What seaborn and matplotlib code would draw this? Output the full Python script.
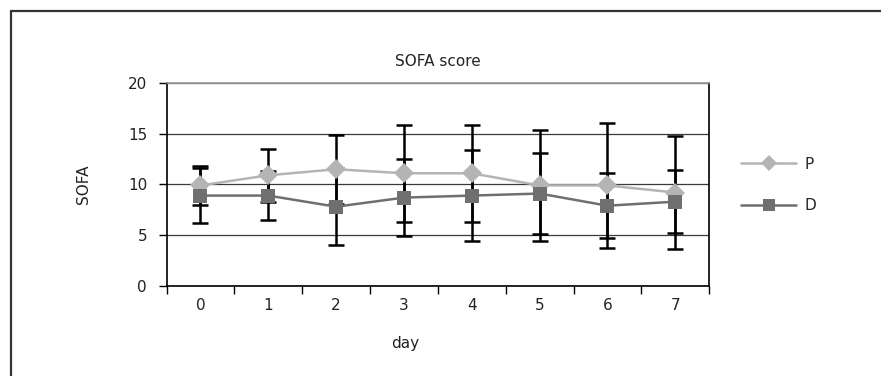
import numpy as np
import pandas as pd
import seaborn as sns
import matplotlib.pyplot as plt
from matplotlib.lines import Line2D
from matplotlib.ticker import FixedLocator

# values
days = [0, 1, 2, 3, 4, 5, 6, 7]
p_mean = [9.9, 10.9, 11.5, 11.1, 11.1, 9.9, 9.9, 9.2]
p_err = [1.9, 2.6, 3.4, 4.8, 4.8, 5.5, 6.2, 5.6]
d_mean = [8.9, 8.9, 7.8, 8.7, 8.9, 9.1, 7.9, 8.3]
d_err = [2.7, 2.4, 3.8, 3.8, 4.5, 4.0, 3.2, 3.1]

df = pd.DataFrame({
    "day": days * 2,
    "SOFA": p_mean + d_mean,
    "group": ["P"] * len(days) + ["D"] * len(days),
})

sns.set_theme(style="white")
plt.rcParams["font.family"] = ["DejaVu Sans"]
plt.rcParams["font.size"] = 10.5

fig = plt.figure(figsize=(8.81, 3.76), dpi=100)
ax = fig.add_axes([0.189, 0.240, 0.616, 0.539])

p_col = "#b4b4b4"
d_col = "#6f6f6f"

# error bars under the markers
ax.errorbar(days, p_mean, yerr=p_err, fmt="none", ecolor="black",
            elinewidth=1.8, capsize=6, capthick=1.8, zorder=2)
ax.errorbar(days, d_mean, yerr=d_err, fmt="none", ecolor="black",
            elinewidth=1.8, capsize=6, capthick=1.8, zorder=2)

sns.lineplot(data=df, x="day", y="SOFA", hue="group", style="group",
             palette={"P": p_col, "D": d_col},
             markers={"P": "D", "D": "s"}, dashes=False,
             markersize=10, markeredgewidth=0, linewidth=1.8,
             ax=ax, zorder=3, legend=False)

ax.set_xlim(-0.5, 7.5)
ax.set_ylim(0, 20)
ax.set_yticks([0, 5, 10, 15, 20])
ax.set_xticks(days)
ax.xaxis.set_minor_locator(FixedLocator(np.arange(-0.5, 8, 1)))
ax.tick_params(axis="x", which="major", length=0, pad=9, labelsize=11, colors="#222")
ax.tick_params(axis="x", which="minor", length=6, width=1, color="black",
               direction="out", bottom=True)
ax.tick_params(axis="y", length=6, width=1, color="black", direction="out",
               pad=8, labelsize=11, left=True, labelcolor="#222")

ax.yaxis.grid(True, color="#3a3a3a", linewidth=0.9)
ax.set_axisbelow(True)
for side in ["left", "bottom", "right"]:
    ax.spines[side].set_color("black")
    ax.spines[side].set_linewidth(1.2)
ax.spines["top"].set_color("#999999")
ax.spines["top"].set_linewidth(1.2)

ax.set_title("SOFA score", fontsize=11, color="#222", pad=12)
ax.set_ylabel("SOFA", fontsize=11, color="#222")
ax.yaxis.set_label_coords(-0.14, 0.5)
ax.set_xlabel("day", fontsize=11, color="#222")
ax.xaxis.set_label_coords(0.44, -0.25)

# legend to the right
handles = [
    Line2D([], [], color=p_col, marker="D", markersize=8, markeredgewidth=0, linewidth=1.8),
    Line2D([], [], color=d_col, marker="s", markersize=9, markeredgewidth=0, linewidth=1.8),
]
fig.legend(handles, ["P", "D"], loc="upper left", bbox_to_anchor=(0.826, 0.62),
           frameon=False, handlelength=3.6, labelspacing=1.75, fontsize=11,
           handletextpad=0.5)

# outer chart border (top and left edges)
W, H = 881, 376
fig.add_artist(Line2D([11 / W, 11 / W], [0, 1 - 11 / H], transform=fig.transFigure,
                      color="#333333", linewidth=1.6))
fig.add_artist(Line2D([11 / W, 1], [1 - 11 / H, 1 - 11 / H], transform=fig.transFigure,
                      color="#333333", linewidth=1.6))

plt.savefig("out.png", dpi=100)
